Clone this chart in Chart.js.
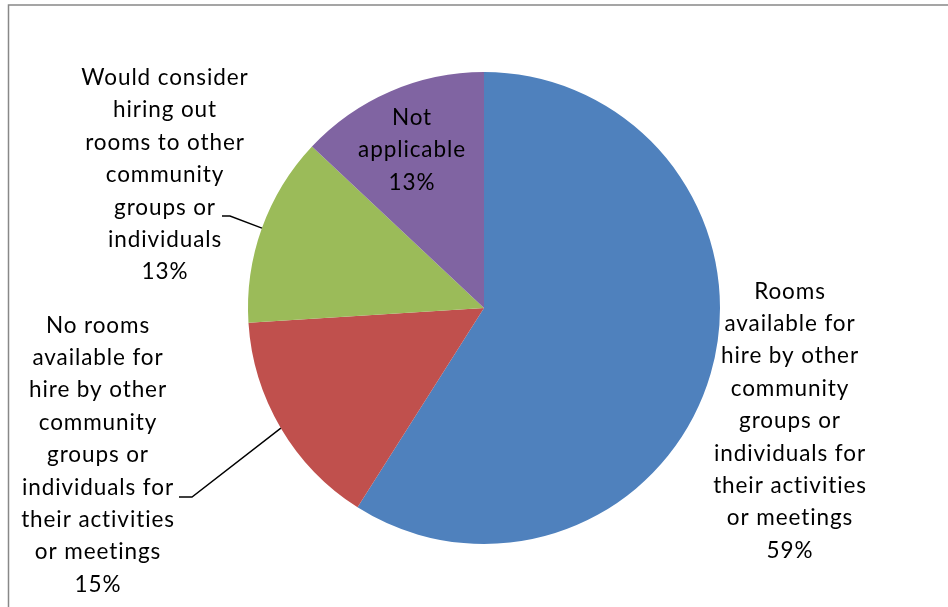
<!DOCTYPE html>
<html>
<head>
<meta charset="utf-8">
<script src="https://cdn.jsdelivr.net/npm/chart.js@4"></script>
<style>
  html, body { margin: 0; padding: 0; background: #fff; overflow: hidden; }
  #wrap { width: 948px; height: 607px; }
</style>
</head>
<body>
<div id="wrap"><canvas id="pieCanvas" width="948" height="607"></canvas></div>
<script>
// categories and shares
const categories = [
  'Rooms available for hire by other community groups or individuals for their activities or meetings',
  'No rooms available for hire by other community groups or individuals for their activities or meetings',
  'Would consider hiring out rooms to other community groups or individuals',
  'Not applicable'
];
const shares = [59, 15, 13, 13];
const sliceColors = ['#4F81BD', '#C0504D', '#9BBB59', '#8064A2'];

// wrapped label lines, as laid out beside the pie
const labelLines = [
  ['Rooms', 'available for', 'hire by other', 'community', 'groups or', 'individuals for', 'their activities', 'or meetings'],
  ['No rooms', 'available for', 'hire by other', 'community', 'groups or', 'individuals for', 'their activities', 'or meetings'],
  ['Would consider', 'hiring out', 'rooms to other', 'community', 'groups or', 'individuals'],
  ['Not', 'applicable']
];

// label block centres and leader elbows (null = no leader)
const labelPos = [
  { x: 790, y: 421 },
  { x: 98, y: 455 },
  { x: 165, y: 175 },
  { x: 412, y: 150 }
];
const leaders = [
  null,
  { ex: 192, ey: 497, tx: 179 },
  { ex: 230, ey: 216, tx: 222 },
  null
];

const FONT = '22.5px Lato, "Liberation Sans", sans-serif';
const LINE_H = 32.4;

const labelPlugin = {
  id: 'sliceLabels',
  afterDraw(chart) {
    const ctx = chart.ctx;
    const arcs = chart.getDatasetMeta(0).data;
    ctx.save();

    // outer frame
    ctx.strokeStyle = '#888888';
    ctx.lineWidth = 1.5;
    ctx.strokeRect(8.5, 5, 1000, 700);

    // leader lines from slice mid-angle to label
    ctx.strokeStyle = '#000';
    ctx.lineWidth = 1.4;
    leaders.forEach((ld, i) => {
      if (!ld) return;
      const a = arcs[i];
      const mid = (a.startAngle + a.endAngle) / 2;
      const px = a.x + Math.cos(mid) * a.outerRadius;
      const py = a.y + Math.sin(mid) * a.outerRadius;
      ctx.beginPath();
      ctx.moveTo(px, py);
      ctx.lineTo(ld.ex, ld.ey);
      ctx.lineTo(ld.tx, ld.ey);
      ctx.stroke();
    });

    // label text
    ctx.fillStyle = '#000';
    ctx.font = FONT;
    ctx.letterSpacing = '0.9px';
    ctx.textAlign = 'center';
    ctx.textBaseline = 'middle';
    labelLines.forEach((lines, i) => {
      const all = lines.concat([shares[i] + '%']);
      const top = labelPos[i].y - (all.length - 1) * LINE_H / 2;
      all.forEach((t, j) => ctx.fillText(t, labelPos[i].x, top + j * LINE_H));
    });
    ctx.restore();
  }
};

new Chart(document.getElementById('pieCanvas'), {
  type: 'pie',
  data: {
    labels: categories,
    datasets: [{
      data: shares,
      backgroundColor: sliceColors,
      borderWidth: 0
    }]
  },
  options: {
    responsive: false,
    animation: false,
    radius: 236,
    layout: { padding: { left: 248, right: 228, top: 72, bottom: 63 } },
    plugins: {
      legend: { display: false },
      tooltip: { enabled: false }
    }
  },
  plugins: [labelPlugin]
});
</script>
</body>
</html>
